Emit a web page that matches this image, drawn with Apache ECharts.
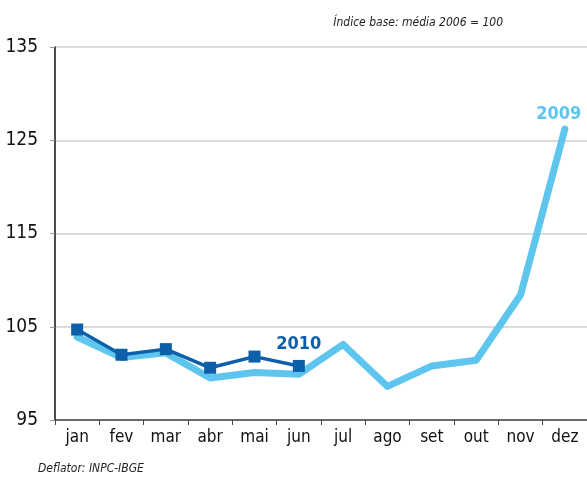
<!DOCTYPE html>
<html><head><meta charset="utf-8">
<script src="https://cdn.jsdelivr.net/npm/echarts@6/dist/echarts.min.js"></script>
<style>html,body{margin:0;padding:0;background:#fff}#c{width:587px;height:477px}</style>
</head><body><div id="c"></div>
<script>
const months = ['jan','fev','mar','abr','mai','jun','jul','ago','set','out','nov','dez'];
const s2009 = [103.9, 101.7, 102.2, 99.5, 100.1, 99.9, 103.1, 98.6, 100.8, 101.4, 108.4, 126.2];
const s2010 = [104.7, 102.0, 102.6, 100.6, 101.8, 100.8];
const yTicks = [95, 105, 115, 125, 135];
const FONT = '"DejaVu Sans Condensed","Liberation Sans Narrow",sans-serif';
const light = '#5ec6ee', dark = '#0c5fa8';

const chart = echarts.init(document.getElementById('c'), null, {renderer:'canvas'});
const d2009 = s2009.map((v,i)=> i===s2009.length-1 ? {value:v,label:{show:true,formatter:'2009',position:'top',offset:[-6,-1],color:light,fontFamily:FONT,fontWeight:'bold',fontSize:18}} : v);
const d2010 = s2010.map((v,i)=> i===s2010.length-1 ? {value:v,label:{show:true,formatter:'2010',position:'top',offset:[0,-2],color:dark,fontFamily:FONT,fontWeight:'bold',fontSize:18}} : v);
chart.setOption({
  animation:false,
  grid:{left:55, top:47, width:540, height:373, containLabel:false},
  graphic:[
    {type:'text', right:84, top:17, style:{text:'Índice base: média 2006 = 100', font:'italic 12px '+FONT, fill:'#222'}},
    {type:'text', left:38, top:463, style:{text:'Deflator: INPC-IBGE', font:'italic 12px '+FONT, fill:'#222'}}
  ],
  xAxis:{type:'category', data:months, boundaryGap:true,
    axisLine:{lineStyle:{color:'#444',width:1.5}},
    axisTick:{show:true,length:5,alignWithLabel:false,lineStyle:{color:'#444'}},
    axisLabel:{color:'#111',fontFamily:FONT,fontSize:17,margin:9}},
  yAxis:{type:'value', min:yTicks[0], max:yTicks[yTicks.length-1], interval:10,
    axisLine:{show:true,lineStyle:{color:'#111',width:1.5}},
    axisTick:{show:true,length:5,lineStyle:{color:'#999'}},
    splitLine:{show:true,lineStyle:{color:'#d0d0d0',width:1.5}},
    axisLabel:{color:'#111',fontFamily:FONT,fontSize:19,margin:17}},
  series:[
    {name:'2009', type:'line', data:d2009, showSymbol:true, symbol:'circle', symbolSize:0,
      lineStyle:{color:light,width:7,cap:'round',join:'round'}, itemStyle:{color:light}, z:2},
    {name:'2010', type:'line', data:d2010, symbol:'rect', symbolSize:12,
      lineStyle:{color:dark,width:3.5}, itemStyle:{color:dark}, z:3}
  ]
});
</script></body></html>
